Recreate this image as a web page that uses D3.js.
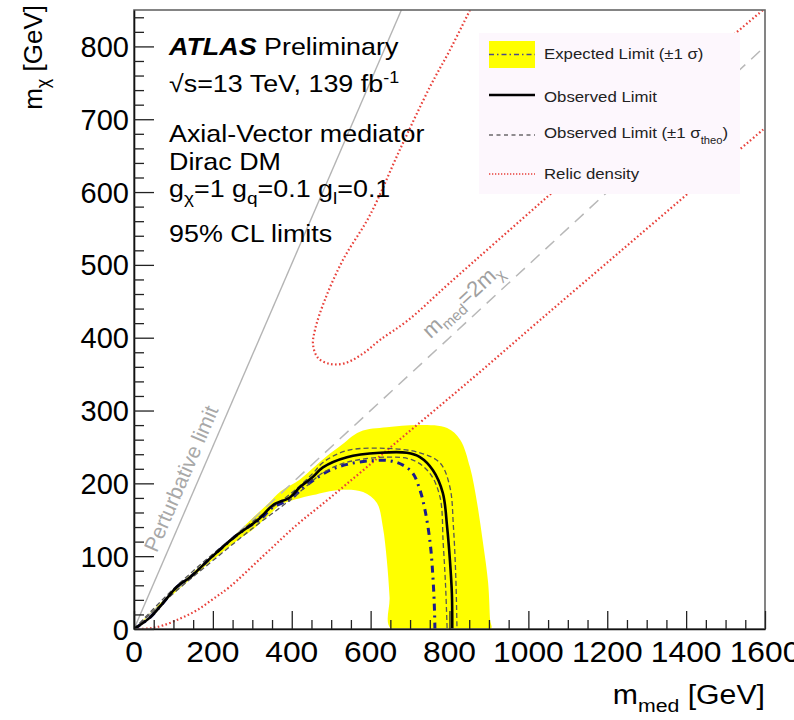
<!DOCTYPE html>
<html><head><meta charset="utf-8">
<script src="https://cdn.jsdelivr.net/npm/d3@7"></script>
<style>
body{margin:0;background:#fff}
svg{display:block}
text{font-family:"Liberation Sans",Arial,Helvetica,sans-serif}
</style>
</head><body>
<svg id="c" width="794" height="720"></svg>
<script>
// ---------------- data ----------------
const xTicks = [0,200,400,600,800,1000,1200,1400,1600];
const yTicks = [0,100,200,300,400,500,600,700,800];
const xTickLabels = ["0","200","400","600","800","1000","1200","1400","1600"];
const yTickLabels = ["0","100","200","300","400","500","600","700","800"];

const observed = [[0,0],[41,16],[74,36],[109,58],[142,71],[193,97],[226,113],[261,129],[287,139],[319,152],[352,170],[396,181],[421,195],[454,209],[479,222],[540,236],[624,242],[692,242],[725,236],[758,218],[783,187],[794,140],[801,95],[806,49],[807,0]];
const obsPlus = [[0,0],[100,55],[200,103],[300,147],[400,187],[454,214],[480,229],[540,245],[641,248],[725,242],[776,228],[801,195],[810,140],[816,71],[819,0]];
const obsMinus = [[0,0],[100,49],[200,94],[300,138],[400,179],[454,204],[480,215],[540,229],[641,236],[707,232],[750,214],[776,181],[784,118],[790,60],[794,0]];
const expected = [[0,0],[41,16],[74,36],[109,58],[142,71],[193,97],[226,113],[261,129],[287,139],[319,150],[352,167],[396,178],[421,190],[454,204],[497,218],[540,226],[598,231],[649,231],[682,225],[707,214],[725,191],[738,163],[751,118],[758,71],[762,25],[763,0]];
const bandUpper = [[0,0],[100,53],[200,102],[260,131],[300,152],[340,172],[372,189],[420,205],[454,221],[490,238],[522,251],[573,271],[641,277],[725,280],[794,276],[827,260],[852,222],[870,173],[885,118],[898,63],[903,12],[905,0]];
const bandLower = [[0,0],[100,48],[200,95],[260,121],[300,136],[340,155],[370,170],[410,178],[454,184],[522,191],[581,188],[616,173],[631,140],[641,95],[648,44],[652,0]];
const relicUpper = [[852,850],[801,795],[750,744],[674,658],[598,568],[530,507],[484,452],[459,411],[454,390],[467,372],[497,364],[535,365],[580,378],[624,397],[695,424],[800,475],[1047,593],[1308,718],[1595,850]];
const relicLower = [[0,0],[40,1],[74,5],[120,15],[160,26],[200,41],[243,58],[327,100],[413,143],[497,180],[682,264],[860,345],[1029,424],[1232,518],[1435,612],[1600,688]];
const perturbative = [[0,0],[678,850]];
const diagonal = [[0,0],[1600,800]];

const legendLabels = ["Expected Limit (\u00B11 \u03C3)","Observed Limit","Observed Limit (\u00B11 \u03C3","Relic density"];

// ---------------- layout ----------------
const svg = d3.select("#c");
const L=134, R=765, T=10, B=629;
const x = d3.scaleLinear().domain([0,1600]).range([L,R]);
const y = d3.scaleLinear().domain([0,850]).range([B,T]);
const SX = 1.12;

svg.append("defs").append("clipPath").attr("id","clip")
  .append("rect").attr("x",L).attr("y",T).attr("width",R-L).attr("height",B-T);

const plot = svg.append("g").attr("clip-path","url(#clip)");
const line = d3.line().x(d=>x(d[0])).y(d=>y(d[1])).curve(d3.curveCatmullRom.alpha(0.5));
const lineLin = d3.line().x(d=>x(d[0])).y(d=>y(d[1]));

// yellow band
const bandPoly = bandUpper.concat(bandLower.slice().reverse());
plot.append("path").attr("d", line(bandPoly)+"Z").attr("fill","#ffff00").attr("stroke","none");

// relic density
[relicUpper, relicLower].forEach(r=>{
  plot.append("path").attr("d", line(r)).attr("fill","none")
    .attr("stroke","#e8403a").attr("stroke-width",2.2).attr("stroke-dasharray","1.6,2.4");
});
// m_med = 2 m_chi
plot.append("path").attr("d", lineLin(diagonal)).attr("fill","none")
  .attr("stroke","#b8b8b8").attr("stroke-width",1.5).attr("stroke-dasharray","12,8");
// perturbative
plot.append("path").attr("d", lineLin(perturbative)).attr("fill","none")
  .attr("stroke","#b4b4b4").attr("stroke-width",1.4);

// expected
plot.append("path").attr("d", line(expected)).attr("fill","none")
  .attr("stroke","#1c1c8c").attr("stroke-width",3).attr("stroke-dasharray","7,5,2,5");
// theory band lines
[obsPlus, obsMinus].forEach(r=>{
  plot.append("path").attr("d", line(r)).attr("fill","none")
    .attr("stroke","#555").attr("stroke-width",1.3).attr("stroke-dasharray","5,3");
});
// observed
plot.append("path").attr("d", line(observed)).attr("fill","none")
  .attr("stroke","#000").attr("stroke-width",2.6);

// annotations on lines
const pAng = Math.atan2(y(perturbative[1][1])-y(0), x(perturbative[1][0])-x(0))*180/Math.PI;
svg.append("text").attr("transform",`translate(${x(58)},${y(104)}) rotate(${pAng})`)
  .attr("font-size",21).attr("fill","#a8a8a8").text("Perturbative limit");
const dAng = Math.atan2(y(800)-y(0), x(1600)-x(0))*180/Math.PI;
const dt = svg.append("text").attr("transform",`translate(${x(752)},${y(398)}) rotate(${dAng})`)
  .attr("font-size",22).attr("fill","#a0a0a0");
dt.append("tspan").text("m");
dt.append("tspan").attr("font-size",15).attr("dy",5).text("med");
dt.append("tspan").attr("dy",-5).text("=2m");
dt.append("tspan").attr("font-size",15).attr("dy",5).text("\u03C7");

// frame
svg.append("rect").attr("x",L).attr("y",T).attr("width",R-L).attr("height",B-T)
  .attr("fill","none").attr("stroke","#666").attr("stroke-width",1.6);

// axes (ticks inward)
const xMinor = d3.range(0,1601,50).filter(v=>v%200!==0);
const yMinor = d3.range(0,851,20).filter(v=>v%100!==0);
const gx = svg.append("g").attr("transform",`translate(0,${B})`);
gx.call(d3.axisBottom(x).tickValues(xTicks).tickSize(-18).tickSizeOuter(0).tickFormat(""));
gx.append("g").call(d3.axisBottom(x).tickValues(xMinor).tickSize(-9).tickSizeOuter(0).tickFormat(""));
const gy = svg.append("g").attr("transform",`translate(${L},0)`);
gy.call(d3.axisLeft(y).tickValues(yTicks).tickSize(-20).tickSizeOuter(0).tickFormat(""));
gy.append("g").call(d3.axisLeft(y).tickValues(yMinor).tickSize(-10).tickSizeOuter(0).tickFormat(""));
svg.selectAll(".domain").attr("stroke","#111").attr("stroke-width",1.6);
svg.selectAll(".tick line").attr("stroke","#222").attr("stroke-width",1.3);
gx.selectAll(":scope > g > .domain").remove();
gy.selectAll(":scope > g > .domain").remove();

// tick labels
xTicks.forEach((v,i)=>{
  svg.append("text").attr("transform",`translate(${x(v)},662) scale(1.06,1)`)
    .attr("text-anchor","middle").attr("font-size",30).attr("fill","#000").text(xTickLabels[i]);
});
yTicks.forEach((v,i)=>{
  svg.append("text").attr("transform",`translate(129,${y(v)+10.5})`)
    .attr("text-anchor","end").attr("font-size",29).attr("fill","#000").text(yTickLabels[i]);
});

// axis titles
const xt = svg.append("text").attr("transform",`translate(765,704) scale(${SX},1)`)
  .attr("text-anchor","end").attr("font-size",27);
xt.append("tspan").text("m");
xt.append("tspan").attr("font-size",19).attr("dy",8).text("med");
xt.append("tspan").attr("dy",-8).text(" [GeV]");
const yt = svg.append("text").attr("transform",`translate(42,5) rotate(-90)`)
  .attr("text-anchor","end").attr("font-size",26);
yt.append("tspan").text("m");
yt.append("tspan").attr("font-size",18).attr("dy",7).text("\u03C7");
yt.append("tspan").attr("dy",-7).text(" [GeV]");

// top-left labels
function block(yb){ return svg.append("text").attr("transform",`translate(169,${yb}) scale(${SX},1)`).attr("font-size",24).attr("fill","#000"); }
let t = block(55);
t.append("tspan").attr("font-weight","bold").attr("font-style","italic").text("ATLAS");
t.append("tspan").text(" Preliminary");
t = block(92);
t.append("tspan").text("\u221As=13 TeV, 139 fb");
t.append("tspan").attr("font-size",16).attr("dy",-9).text("-1");
block(142).text("Axial-Vector mediator");
block(170).text("Dirac DM");
t = block(197);
t.append("tspan").text("g");
t.append("tspan").attr("font-size",17).attr("dy",7).text("\u03C7");
t.append("tspan").attr("dy",-7).text("=1 g");
t.append("tspan").attr("font-size",17).attr("dy",7).text("q");
t.append("tspan").attr("dy",-7).text("=0.1 g");
t.append("tspan").attr("font-size",17).attr("dy",7).text("l");
t.append("tspan").attr("dy",-7).text("=0.1");
block(242).text("95% CL limits");

// legend
const lg = svg.append("g");
lg.append("rect").attr("x",479).attr("y",33).attr("width",261).attr("height",161).attr("fill","#fdf7fd");
lg.append("rect").attr("x",489).attr("y",41).attr("width",46).attr("height",27).attr("fill","#ffff00");
lg.append("line").attr("x1",489).attr("x2",535).attr("y1",54.5).attr("y2",54.5)
  .attr("stroke","#4a4a8a").attr("stroke-width",1.3).attr("stroke-dasharray","5,3,1.5,3");
lg.append("line").attr("x1",489).attr("x2",535).attr("y1",95).attr("y2",95).attr("stroke","#000").attr("stroke-width",2.4);
lg.append("line").attr("x1",489).attr("x2",535).attr("y1",135).attr("y2",135).attr("stroke","#222").attr("stroke-width",1.2).attr("stroke-dasharray","4,3.5");
lg.append("line").attr("x1",489).attr("x2",535).attr("y1",174).attr("y2",174).attr("stroke","#e8403a").attr("stroke-width",1.6).attr("stroke-dasharray","1.3,1.7");
function ltext(yb){ return lg.append("text").attr("transform",`translate(544,${yb}) scale(${SX},1)`).attr("font-size",15).attr("fill","#222"); }
ltext(59).text(legendLabels[0]);
ltext(102).text(legendLabels[1]);
t = ltext(138);
t.append("tspan").text(legendLabels[2]);
t.append("tspan").attr("font-size",10).attr("dy",6).text("theo");
t.append("tspan").attr("dy",-6).text(")");
ltext(179).text(legendLabels[3]);
</script>
</body></html>
